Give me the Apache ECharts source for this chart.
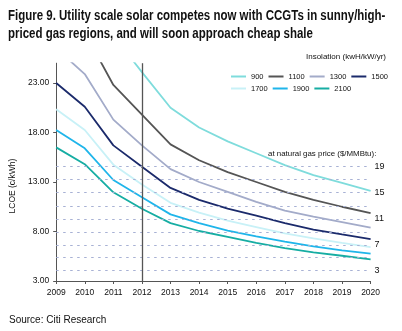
<!DOCTYPE html>
<html>
<head>
<meta charset="utf-8">
<style>
  html, body { margin: 0; padding: 0; background: #fff; }
  #chart { width: 402px; height: 331px; }
</style>
<script src="https://cdn.jsdelivr.net/npm/echarts@6/dist/echarts.min.js"></script>
</head>
<body>
<div id="chart"></div>
<script>
// Years on the x axis
const years = ['2009', '2010', '2011', '2012', '2013', '2014', '2015', '2016', '2017', '2018', '2019', '2020'];

// Insolation classes (kWh/kW/yr), one line each
const insolation = ['900', '1100', '1300', '1500', '1700', '1900', '2100'];

// Levelised cost of solar energy, c/kWh, per insolation class
const lcoe900  = [38.3, 34.3, 27.8, 24.1, 20.5, 18.5, 17.1, 15.9, 14.7, 13.7, 12.9, 12.1];
const lcoe1100 = [31.4, 28.1, 22.8, 19.8, 16.8, 15.2, 14.0, 13.0, 12.0, 11.2, 10.5, 9.85];
const lcoe1300 = [26.5, 23.9, 19.3, 16.7, 14.3, 13.0, 12.0, 11.0, 10.1, 9.5, 8.95, 8.38];
const lcoe1500 = [23.0, 20.6, 16.7, 14.55, 12.4, 11.2, 10.3, 9.6, 8.85, 8.2, 7.7, 7.22];
const lcoe1700 = [20.35, 18.25, 14.75, 12.75, 10.9, 9.9, 9.1, 8.45, 7.8, 7.3, 6.85, 6.42];
const lcoe1900 = [18.25, 16.4, 13.2, 11.45, 9.73, 8.85, 8.1, 7.5, 6.97, 6.5, 6.1, 5.76];
const lcoe2100 = [16.5, 14.8, 11.96, 10.3, 8.85, 8.05, 7.45, 6.85, 6.32, 5.9, 5.55, 5.19];

// Gas-fired CCGT cost (c/kWh) at each natural gas price ($/MMBtu)
const gasPrices = [3, 5, 7, 9, 11, 13, 15, 17, 19];
const gasLcoe   = [4.05, 5.35, 6.65, 7.92, 9.28, 10.6, 11.92, 13.25, 14.55];
const gasLabelled = [3, 7, 11, 15, 19];

// Y axis tick labels
const yTicks = [3, 8, 13, 18, 23];

// Reference year marker
const markerYear = '2012';

const seriesValues = [lcoe900, lcoe1100, lcoe1300, lcoe1500, lcoe1700, lcoe1900, lcoe2100];
const colors = ['#7fdcdc', '#555555', '#a3abc9', '#1b2a6b', '#c8f1f7', '#1fb5ea', '#16ada3'];

const FONT = "'Liberation Sans', Arial, sans-serif";

const chart = echarts.init(document.getElementById('chart'), null, { renderer: 'canvas' });

const lineSeries = insolation.map((name, i) => ({
  name: name,
  type: 'line',
  data: seriesValues[i],
  showSymbol: false,
  symbol: 'none',
  clip: true,
  lineStyle: { color: colors[i], width: 1.8 },
  itemStyle: { color: colors[i] },
  z: 3
}));

// Gas-price reference lines and the 2012 marker
const refSeries = {
  name: 'ref',
  type: 'line',
  data: [],
  silent: true,
  z: 1,
  markLine: {
    silent: true,
    symbol: ['none', 'none'],
    animation: false,
    data: gasLcoe.map((v, i) => ({
      yAxis: v,
      lineStyle: { color: '#a7b1d4', type: [2.5, 4.5], width: 1.2 },
      label: {
        show: gasLabelled.indexOf(gasPrices[i]) >= 0,
        position: 'end',
        distance: 4,
        formatter: String(gasPrices[i]),
        color: '#111',
        fontSize: 9,
        fontFamily: FONT
      }
    })).concat([{
      xAxis: markerYear,
      lineStyle: { color: '#555', type: 'solid', width: 1.3 },
      label: { show: false }
    }])
  }
};

const legendCommon = {
  orient: 'horizontal',
  left: 231,
  itemWidth: 15,
  itemHeight: 2,
  itemGap: 5,
  icon: 'rect',
  padding: 0,
  selectedMode: false,
  textStyle: { fontSize: 7.5, fontFamily: FONT, color: '#111', width: 16 }
};

chart.setOption({
  animation: false,
  backgroundColor: '#fff',
  color: colors,
  grid: { left: 53.3, right: 31.4, top: 63.2, bottom: 50, containLabel: false },
  legend: [
    Object.assign({}, legendCommon, { top: 72.5, data: insolation.slice(0, 4) }),
    Object.assign({}, legendCommon, { top: 84.5, data: insolation.slice(4) })
  ],
  graphic: [
    {
      type: 'text', x: 8, y: 7, scaleX: 0.82,
      style: {
        text: 'Figure 9. Utility scale solar competes now with CCGTs in sunny/high-\npriced gas regions, and will soon approach cheap shale',
        font: 'bold 14px ' + FONT, fill: '#111', lineHeight: 18, verticalAlign: 'top'
      }
    },
    {
      type: 'text', left: 306, top: 53,
      style: { text: 'Insolation (kwH/kW/yr)', font: '8px ' + FONT, fill: '#111' }
    },
    {
      type: 'text', left: 268, top: 150,
      style: { text: 'at natural gas price ($/MMBtu):', font: '7.9px ' + FONT, fill: '#111' }
    },
    {
      type: 'text', left: 9, top: 315,
      style: { text: 'Source: Citi Research', font: '10px ' + FONT, fill: '#111' }
    }
  ],
  xAxis: {
    type: 'category',
    data: years,
    boundaryGap: false,
    axisLine: { lineStyle: { color: '#555', width: 1 } },
    axisTick: { show: true, length: 3, lineStyle: { color: '#555' } },
    axisLabel: { color: '#111', fontSize: 8.5, fontFamily: FONT, margin: 7 },
    splitLine: { show: false }
  },
  yAxis: {
    type: 'value',
    min: 3,
    max: 25,
    name: 'LCOE (c/kWh)',
    nameLocation: 'middle',
    nameGap: 32,
    nameRotate: 90,
    nameTextStyle: { color: '#111', fontSize: 8.5, fontFamily: FONT, padding: [0, 0, 0, -28] },
    axisLine: { show: true, lineStyle: { color: '#555', width: 1 } },
    axisTick: { show: true, length: 3, customValues: yTicks, lineStyle: { color: '#555' } },
    axisLabel: {
      color: '#111', fontSize: 8.5, fontFamily: FONT, margin: 7,
      customValues: yTicks,
      formatter: v => v.toFixed(2)
    },
    splitLine: { show: false }
  },
  series: lineSeries.concat([refSeries])
});
</script>
</body>
</html>
